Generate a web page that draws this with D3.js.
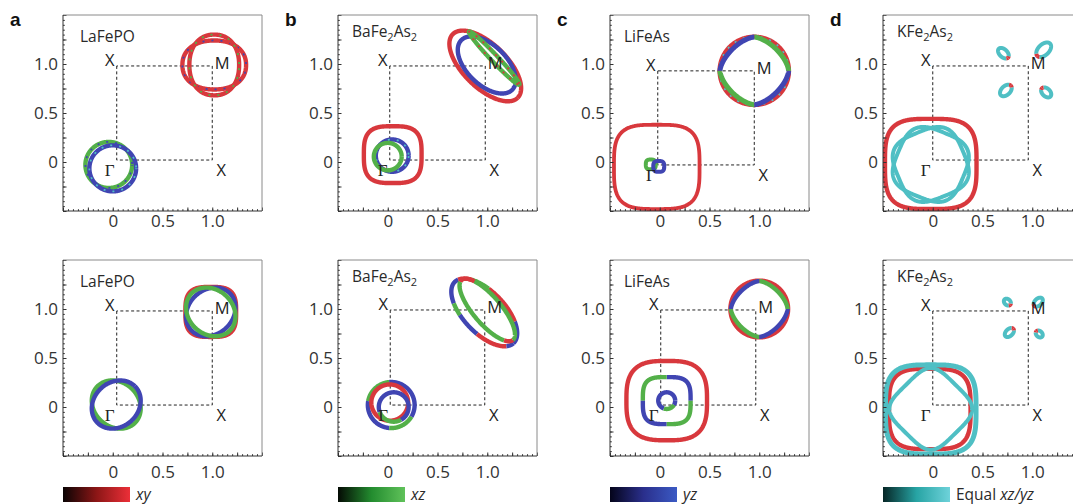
<!DOCTYPE html>
<html>
<head>
<meta charset="utf-8">
<script src="https://cdn.jsdelivr.net/npm/d3@7"></script>
<style>
body{margin:0;background:#fff}
svg{display:block}
</style>
</head>
<body>
<svg id="fig" width="1073" height="504"></svg>
<script>
// ---- data (k in units of pi/a) ----
var letters = ["a", "b", "c", "d"];
var compounds = ["LaFePO", "BaFe_2As_2", "LiFeAs", "KFe_2As_2"];
var tickVals = [0, 0.5, 1.0];
var tickText = ["0", "0.5", "1.0"];
var majorTicks = [-0.5, -0.25, 0, 0.25, 0.5, 0.75, 1.0, 1.25, 1.5];
var minorTicks = d3.range(-0.5, 1.5001, 0.05);
var symNames = ["X", "M", "X", "\u0393"];
var orbKeys = ["r", "g", "b", "c"];
var orbLabels = [["xy"], ["xz"], ["yz"], ["Equal ", "xz/yz"]];

// dashed zone boundary [x0, y0, x1, y1] per panel, [top, bottom]
var zones = [
  [[0.04, 0.02, 1.0, 0.98], [0.04, 0.02, 1.0, 0.98]],
  [[0.02, 0.02, 0.98, 0.98], [0.025, 0.02, 0.975, 0.99]],
  [[-0.02, -0.03, 0.95, 0.93], [0.01, 0.02, 0.965, 0.99]],
  [[0.0, 0.02, 0.96, 0.98], [0.0, 0.02, 0.96, 0.98]]
];

// Fermi surface sheets: centre, half axes, rotation, squareness, orbital colour segments
var lafepo = [
  {row: 0, cx: -0.04, cy: -0.03, a: 0.235, segs: [[0, "g"]], mix: ["b"]},
  {row: 0, cx: 0.0, cy: -0.065, a: 0.235, segs: [[0, "b"]], mix: ["c"]},
  {row: 0, cx: 1.02, cy: 0.99, a: 0.32, b: 0.25, n: 2.2, segs: [[0, "r"]], mix: ["b"]},
  {row: 0, cx: 1.02, cy: 0.99, a: 0.25, b: 0.31, n: 2.2, segs: [[0, "r"]], mix: ["g"]},
  {row: 1, cx: 0.035, cy: 0.025, a: 0.265, b: 0.225, rot: -45, segs: [[0, "g"]]},
  {row: 1, cx: 0.035, cy: 0.025, a: 0.265, b: 0.225, rot: 45, segs: [[0, "b"]]},
  {row: 1, cx: 0.985, cy: 0.97, a: 0.255, n: 3.2, segs: [[0, "r"]]},
  {row: 1, cx: 0.985, cy: 0.97, a: 0.27, b: 0.225, rot: 45, segs: [[0, "b"]]},
  {row: 1, cx: 0.985, cy: 0.97, a: 0.27, b: 0.225, rot: -45, segs: [[0, "g"]]}
];
var bafe2as2 = [
  {row: 0, cx: 0.05, cy: 0.075, a: 0.29, n: 3.2, segs: [[0, "r"]]},
  {row: 0, cx: 0.045, cy: 0.065, a: 0.165, segs: [[0, "b"]], mix: ["c"]},
  {row: 0, cx: 0.0, cy: 0.055, a: 0.14, segs: [[0, "g"]]},
  {row: 0, cx: 0.98, cy: 0.98, a: 0.46, b: 0.22, rot: -45, segs: [[0, "r"]]},
  {row: 0, cx: 0.995, cy: 0.99, a: 0.36, b: 0.2, rot: -45, segs: [[0, "b"]]},
  {row: 0, cx: 1.07, cy: 1.06, a: 0.37, b: 0.035, rot: -47, segs: [[0, "g"]], mix: ["r"]},
  {row: 1, cx: 0.035, cy: 0.02, a: 0.235, segs: [[0, "b"], [95, "g"], [170, "b"], [265, "g"], [330, "b"]]},
  {row: 1, cx: 0.02, cy: 0.045, a: 0.185, segs: [[0, "r"]]},
  {row: 1, cx: 0.06, cy: 0.0, a: 0.15, segs: [[0, "b"], [200, "g"], [300, "b"]]},
  {row: 1, cx: 0.97, cy: 0.965, a: 0.43, b: 0.21, rot: -47,
   segs: [[0, "b"], [50, "r"], [110, "g"], [140, "r"], [170, "b"], [230, "g"], [250, "b"], [285, "r"], [340, "b"]]},
  {row: 1, cx: 1.0, cy: 0.99, a: 0.4, b: 0.14, rot: -50,
   segs: [[0, "g"], [140, "r"], [190, "g"], [330, "r"]]}
];
var lifeas = [
  {row: 0, cx: -0.03, cy: -0.05, a: 0.43, n: 3.5, w: 3.8, segs: [[0, "r"]]},
  {row: 0, cx: -0.09, cy: -0.025, a: 0.05, n: 3, w: 4, segs: [[0, "g"]]},
  {row: 0, cx: -0.01, cy: -0.045, a: 0.055, n: 3, w: 4, segs: [[0, "b"]]},
  {row: 0, cx: 0.95, cy: 0.93, a: 0.35, w: 4, segs: [[0, "r"]], mix: ["c"]},
  {row: 0, cx: 0.95, cy: 0.93, a: 0.345, n: 1.55, w: 5, segs: [[0, "g"], [90, "b"], [180, "g"], [270, "b"]]},
  {row: 1, cx: 0.07, cy: 0.065, a: 0.405, n: 3, segs: [[0, "r"]]},
  {row: 1, cx: 0.07, cy: 0.065, a: 0.24, n: 3.5, segs: [[0, "b"], [90, "g"], [180, "b"], [270, "g"]]},
  {row: 1, cx: 0.07, cy: 0.065, a: 0.085, segs: [[0, "b"], [250, "g"], [330, "b"]]},
  {row: 1, cx: 1.0, cy: 1.0, a: 0.29, segs: [[0, "r"]]},
  {row: 1, cx: 1.0, cy: 1.0, a: 0.285, n: 1.55, segs: [[0, "g"], [90, "b"], [180, "g"], [270, "b"]]}
];
var kfe2as2 = [
  {row: 0, cx: -0.02, cy: -0.02, a: 0.46, n: 3.5, segs: [[0, "r"]]},
  {row: 0, cx: -0.02, cy: -0.025, a: 0.35, n: 3.2, rot: 22.5, w: 4, segs: [[0, "c"]]},
  {row: 0, cx: -0.02, cy: -0.025, a: 0.35, n: 3.2, rot: -22.5, w: 4, segs: [[0, "c"]]},
  {row: 0, cx: 0.71, cy: 1.11, a: 0.065, b: 0.04, rot: -45, w: 4, segs: [[0, "r"], [25, "c"], [335, "r"]]},
  {row: 0, cx: 1.115, cy: 1.145, a: 0.09, b: 0.055, rot: 225, w: 4, segs: [[0, "r"], [25, "c"], [335, "r"]]},
  {row: 0, cx: 0.735, cy: 0.73, a: 0.07, b: 0.045, rot: 45, w: 4, segs: [[0, "r"], [25, "c"], [335, "r"]]},
  {row: 0, cx: 1.14, cy: 0.71, a: 0.06, b: 0.04, rot: 135, w: 4, segs: [[0, "r"], [25, "c"], [335, "r"]]},
  {row: 1, cx: -0.03, cy: -0.02, a: 0.41, n: 3.5, segs: [[0, "r"]]},
  {row: 1, cx: -0.02, cy: -0.025, a: 0.455, n: 3.5, w: 5, segs: [[0, "c"]]},
  {row: 1, cx: -0.02, cy: -0.02, a: 0.35, n: 4, rot: 45, w: 4, segs: [[0, "c"]]},
  {row: 1, cx: 0.75, cy: 1.07, a: 0.04, b: 0.03, rot: -45, w: 4, segs: [[0, "r"], [30, "c"], [330, "r"]]},
  {row: 1, cx: 1.06, cy: 1.07, a: 0.055, b: 0.035, rot: 225, w: 4, segs: [[0, "r"], [30, "c"], [330, "r"]]},
  {row: 1, cx: 0.77, cy: 0.76, a: 0.055, b: 0.035, rot: 45, w: 4, segs: [[0, "r"], [30, "c"], [330, "r"]]},
  {row: 1, cx: 1.07, cy: 0.745, a: 0.04, b: 0.03, rot: 135, w: 4, segs: [[0, "r"], [30, "c"], [330, "r"]]}
];
var sheets = [lafepo, bafe2as2, lifeas, kfe2as2];

// ---- layout ----
var W = 199, H = 196;
var colLeft = [63, 338, 610, 883];
var rowTop = [15, 260];
var labelGap = [4, 10];
var orbColor = {r: "#d8393d", g: "#52b048", b: "#3f44b2", c: "#4fbfc4"};
var barStops = {
  r: ["#0a0404", "#8c1616", "#ec2f38"],
  g: ["#040a04", "#238c2f", "#60c25a"],
  b: ["#04041a", "#2a2f8c", "#3b5ac4"],
  c: ["#062626", "#27a4a4", "#6ed2da"]
};
var font = "'Open Sans', 'DejaVu Sans', sans-serif";

var x = d3.scaleLinear().domain([-0.5, 1.5]).range([0, W]);
var y = d3.scaleLinear().domain([-0.5, 1.5]).range([H, 0]);
var line = d3.line().x(function(d){ return x(d[0]); }).y(function(d){ return y(d[1]); });

var svg = d3.select("#fig");
var defs = svg.append("defs");
defs.append("filter").attr("id", "soft")
  .attr("filterUnits", "userSpaceOnUse")
  .attr("x", -30).attr("y", -30).attr("width", W + 60).attr("height", H + 60)
  .append("feGaussianBlur").attr("stdDeviation", 0.6);

// point on the (super)ellipse at parameter t (degrees)
function pt(p, tdeg) {
  var t = tdeg * Math.PI / 180, n = p.n || 2, e = 2 / n;
  var b = p.b || p.a, r = (p.rot || 0) * Math.PI / 180;
  var c = Math.cos(t), s = Math.sin(t);
  var u = p.a * Math.sign(c) * Math.pow(Math.abs(c), e);
  var v = b * Math.sign(s) * Math.pow(Math.abs(s), e);
  return [p.cx + u * Math.cos(r) - v * Math.sin(r), p.cy + u * Math.sin(r) + v * Math.cos(r)];
}
function arc(p, t0, t1) {
  var pts = d3.range(t0, t1, 1).map(function(t){ return pt(p, t); });
  pts.push(pt(p, t1));
  return pts;
}

letters.forEach(function(L, i) {
  [0, 1].forEach(function(row) {
    var g = svg.append("g").attr("transform", "translate(" + colLeft[i] + "," + rowTop[row] + ")");
    var cid = "clip" + i + row;
    defs.append("clipPath").attr("id", cid).append("rect").attr("width", W).attr("height", H);

    // dashed zone boundary
    var z = zones[i][row];
    g.append("path")
      .attr("d", line([[z[0], z[3]], [z[0], z[1]], [z[2], z[1]], [z[2], z[3]], [z[0], z[3]]]))
      .attr("fill", "none").attr("stroke", "#222").attr("stroke-width", 1)
      .attr("stroke-dasharray", "3,2.4");

    // Fermi surface sheets
    var fs = g.append("g").attr("clip-path", "url(#" + cid + ")")
      .append("g").attr("filter", "url(#soft)");
    sheets[i].filter(function(p){ return p.row === row; }).forEach(function(p) {
      var w = p.w || 4.4;
      p.segs.forEach(function(s, k) {
        var t1 = k < p.segs.length - 1 ? p.segs[k + 1][0] : 360;
        fs.append("path").attr("d", line(arc(p, s[0], t1)))
          .attr("fill", "none").attr("stroke", orbColor[s[1]])
          .attr("stroke-width", w).attr("stroke-linejoin", "round");
      });
      (p.mix || []).forEach(function(m, j) {
        fs.append("path").attr("d", line(arc(p, 0, 360)))
          .attr("fill", "none").attr("stroke", orbColor[m])
          .attr("stroke-width", w * 0.4)
          .attr("stroke-dasharray", "2,7")
          .attr("stroke-dashoffset", -j * 4 - 1);
      });
    });

    // high-symmetry labels
    var sp = [[z[0] - 0.07, z[3] + 0.06], [z[2] + 0.1, z[3] + 0.03], [z[2] + 0.09, z[1] - 0.1], [z[0] - 0.07, z[1] - 0.1]];
    symNames.forEach(function(s, k) {
      g.append("text").attr("x", x(sp[k][0])).attr("y", y(sp[k][1]))
        .attr("dy", "0.36em").attr("text-anchor", "middle")
        .attr("font-family", k === 3 ? "'Liberation Serif', serif" : font)
        .attr("font-size", k === 3 ? 17 : 16.5).attr("fill", "#222").text(s);
    });

    // compound name with subscripts
    var parts = compounds[i].split(/_(\d)/);
    var sub = parts.length > 1;
    var tx = g.append("text").attr("x", i === 0 ? 17 : 14).attr("y", sub ? 21.5 : 27)
      .attr("font-family", font).attr("font-size", 15.5).attr("fill", "#2a2a2a");
    parts.forEach(function(s, k) {
      if (!s) return;
      var isSub = k % 2 === 1;
      tx.append("tspan").attr("font-size", isSub ? 11 : 15.5)
        .attr("dy", isSub ? 4 : (k > 0 ? -4 : 0)).text(s);
    });

    // axes: minor + major ticks inward, labels outside
    var bx = g.append("g").attr("transform", "translate(0," + H + ")");
    bx.append("g").call(d3.axisBottom(x).tickValues(minorTicks).tickSize(-1.8).tickFormat(""));
    bx.append("g").call(d3.axisBottom(x).tickValues(majorTicks).tickSize(-3.5).tickFormat(""));
    bx.append("g").call(d3.axisBottom(x).tickValues(tickVals).tickSize(0).tickPadding(labelGap[row])
      .tickFormat(function(d, k){ return tickText[k]; }));
    var ly = g.append("g");
    ly.append("g").call(d3.axisLeft(y).tickValues(minorTicks).tickSize(-1.8).tickFormat(""));
    ly.append("g").call(d3.axisLeft(y).tickValues(majorTicks).tickSize(-3.5).tickFormat(""));
    ly.append("g").call(d3.axisLeft(y).tickValues(tickVals).tickSize(0).tickPadding(5)
      .tickFormat(function(d, k){ return tickText[k]; }));
    g.selectAll(".domain").remove();
    g.selectAll(".tick line").attr("stroke", "#333");
    g.selectAll(".tick text").attr("font-family", font).attr("font-size", 17).attr("fill", "#333");

    // frame
    g.append("path").attr("d", "M0,0H" + W + "V" + H).attr("fill", "none").attr("stroke", "#8a8a8a").attr("stroke-width", 1);
    g.append("path").attr("d", "M0,0V" + H + "H" + W).attr("fill", "none").attr("stroke", "#333").attr("stroke-width", 1);

    if (row === 0) {
      svg.append("text").attr("x", colLeft[i] - 53).attr("y", 26)
        .attr("font-family", "'Liberation Sans', Arial, sans-serif").attr("font-weight", "bold")
        .attr("font-size", 19).attr("fill", "#111").text(L);
    }
  });

  // orbital colour bar
  var key = orbKeys[i];
  var gid = "grad" + key;
  var grad = defs.append("linearGradient").attr("id", gid);
  barStops[key].forEach(function(c, k) {
    grad.append("stop").attr("offset", k / (barStops[key].length - 1)).attr("stop-color", c);
  });
  svg.append("rect").attr("x", colLeft[i]).attr("y", 487).attr("width", 67).attr("height", 15)
    .attr("fill", "url(#" + gid + ")");
  var lt = svg.append("text").attr("x", colLeft[i] + 73).attr("y", 500)
    .attr("font-family", font).attr("font-size", 15.5).attr("fill", "#2a2a2a");
  orbLabels[i].forEach(function(s, k) {
    lt.append("tspan").attr("font-style", (orbLabels[i].length === 1 || k === 1) ? "italic" : "normal").text(s);
  });
});
</script>
</body>
</html>
